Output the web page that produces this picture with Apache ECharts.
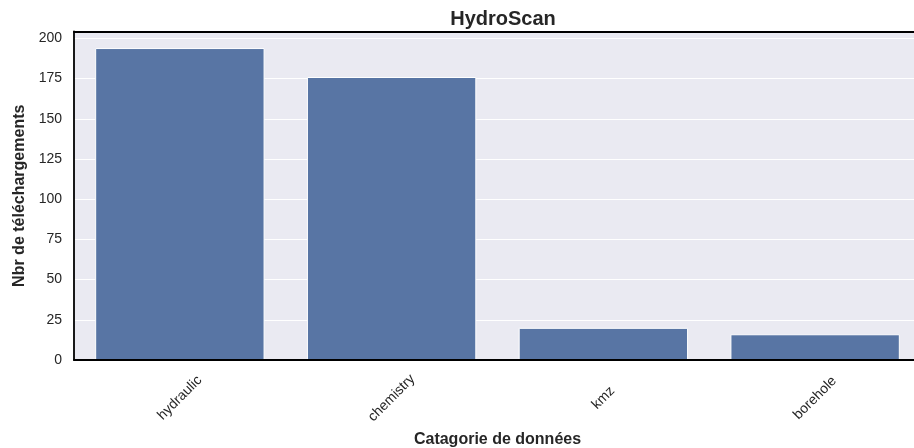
<!DOCTYPE html>
<html>
<head>
<meta charset="utf-8">
<script src="https://cdn.jsdelivr.net/npm/echarts@6/dist/echarts.min.js"></script>
<style>
  html, body { margin: 0; padding: 0; background: #fff; }
  #chart { width: 914px; height: 448px; }
</style>
</head>
<body>
<div id="chart"></div>
<script>
// données
const categories = ['hydraulic', 'chemistry', 'kmz', 'borehole']
const downloads = [194, 176, 20, 16]
const yTicks = [0, 25, 50, 75, 100, 125, 150, 175, 200]

const font = '"Liberation Sans", Arial, sans-serif'
const textColor = '#262626'
const frame = { show: true, lineStyle: { color: '#000', width: 1.8 } }

const chart = echarts.init(document.getElementById('chart'))

const option = {
  backgroundColor: '#fff',
  animation: false,
  title: {
    text: 'HydroScan',
    left: 498,
    top: 4,
    textAlign: 'center',
    textStyle: { fontFamily: font, fontSize: 20, fontWeight: 'bold', color: textColor },
  },
  grid: {
    left: 74,
    top: 31.5,
    width: 847,
    bottom: 88,
    outerBoundsMode: 'none',
    containLabel: false,
    show: true,
    backgroundColor: '#EAEAF2',
    borderWidth: 0,
  },
  xAxis: [
    {
      type: 'category',
      data: categories,
      z: 10,
      name: 'Catagorie de données',
      nameLocation: 'middle',
      nameGap: 63,
      nameTextStyle: { fontFamily: font, fontSize: 16, fontWeight: 'bold', color: textColor },
      axisLine: frame,
      axisTick: { show: false },
      axisLabel: {
        rotate: 45,
        align: 'center',
        verticalAlign: 'middle',
        margin: 38,
        fontFamily: font,
        fontSize: 14,
        color: textColor,
      },
    },
    {
      // ligne du cadre en haut
      type: 'category',
      data: categories,
      position: 'top',
      z: 10,
      axisLine: frame,
      axisTick: { show: false },
      axisLabel: { show: false },
    },
  ],
  yAxis: {
    type: 'value',
    min: 0,
    max: 204.3,
    interval: 25,
    name: 'Nbr de téléchargements',
    nameLocation: 'middle',
    nameGap: 42,
    nameTextStyle: { fontFamily: font, fontSize: 16, fontWeight: 'bold', color: textColor },
    axisLine: frame,
    axisTick: { show: false },
    axisLabel: {
      margin: 12,
      fontFamily: font,
      fontSize: 14,
      color: textColor,
      formatter: (v) => (yTicks.includes(v) ? String(v) : ''),
    },
    splitLine: {
      lineStyle: { color: '#fff', width: 1.2 },
    },
  },
  series: [
    {
      type: 'bar',
      data: downloads,
      barWidth: '80%',
      itemStyle: {
        color: '#5875A4',
        borderColor: '#fff',
        borderWidth: 1,
      },
    },
  ],
}

chart.setOption(option)
</script>
</body>
</html>
